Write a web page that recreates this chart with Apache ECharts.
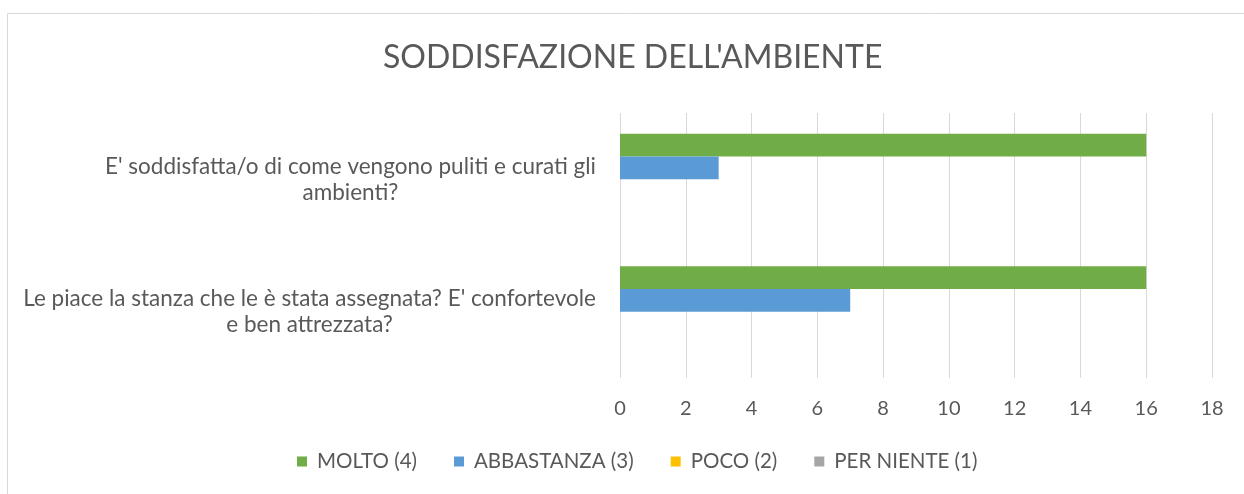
<!DOCTYPE html>
<html>
<head>
<meta charset="utf-8">
<script src="https://cdn.jsdelivr.net/npm/echarts@6/dist/echarts.min.js"></script>
<style>
  html, body { margin: 0; padding: 0; background: #fff; }
  #chart { width: 1244px; height: 494px; }
</style>
</head>
<body>
<div id="chart"></div>
<script>
'use strict';

var chartTitle = "SODDISFAZIONE DELL'AMBIENTE";
var categories = [
  "E' soddisfatta/o di come vengono puliti e curati gli\nambienti?",
  "Le piace la stanza che le è stata assegnata? E' confortevole\ne ben attrezzata?"
];
var seriesNames = ['MOLTO (4)', 'ABBASTANZA (3)', 'POCO (2)', 'PER NIENTE (1)'];
var molto = [16, 16];
var abbastanza = [3, 7];
var poco = [0, 0];
var perNiente = [0, 0];
var xTicks = { min: 0, max: 18, step: 2 };

var _color = ['#70AD47', '#5B9BD5', '#FFC000', '#A5A5A5'];
var _font = 'Lato, "Open Sans", sans-serif';
var _text = '#595959';

var chart = echarts.init(document.getElementById('chart'), null, { renderer: 'canvas' });

function barSeries(name, data) {
  return {
    name: name,
    type: 'bar',
    data: data,
    barGap: '0%',
    barCategoryGap: '31.5%'
  };
}

var option = {
  animation: false,
  color: _color,
  textStyle: { fontFamily: _font, color: _text },
  title: {
    text: chartTitle,
    left: 378,
    top: 37,
    textStyle: { fontFamily: _font, fontSize: 32, fontWeight: 'normal', color: _text }
  },
  graphic: [{
    type: 'rect',
    shape: { x: 7.5, y: 13.5, width: 1260, height: 500 },
    style: { fill: 'none', stroke: '#D9D9D9', lineWidth: 1 },
    silent: true
  }],
  legend: {
    data: seriesNames,
    bottom: 17,
    left: 292,
    itemWidth: 10,
    itemHeight: 10,
    itemGap: 37,
    icon: 'rect',
    textStyle: { fontFamily: _font, fontSize: 20.5, color: _text, padding: [0, 0, 0, 5] }
  },
  grid: { left: 620, right: 32, top: 113, bottom: 116 },
  xAxis: {
    type: 'value',
    min: xTicks.min,
    max: xTicks.max,
    interval: xTicks.step,
    axisLine: { show: false },
    axisTick: { show: false },
    splitLine: { lineStyle: { color: '#D9D9D9', width: 1 } },
    axisLabel: { margin: 21, fontFamily: _font, fontSize: 20, color: _text }
  },
  yAxis: {
    type: 'category',
    inverse: true,
    data: categories,
    axisLine: { show: false },
    axisTick: { show: false },
    axisLabel: {
      margin: 24,
      formatter: function(v){
        return v.split('\n').map(function(l){ return '{c|' + l + '}'; }).join('\n');
      },
      rich: {
        c: { fontFamily: _font, fontSize: 22.5, color: _text, align: 'center', lineHeight: 26 }
      }
    }
  },
  series: [
    barSeries(seriesNames[0], molto),
    barSeries(seriesNames[1], abbastanza),
    barSeries(seriesNames[2], poco),
    barSeries(seriesNames[3], perNiente)
  ]
};

chart.setOption(option);
</script>
</body>
</html>
